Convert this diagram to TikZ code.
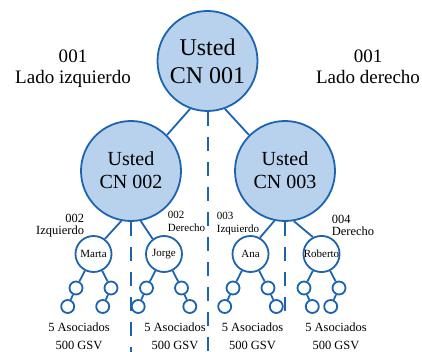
\documentclass[tikz,border=0pt]{standalone}
\usepackage{fontspec}
\setmainfont{Liberation Serif}
\usetikzlibrary{calc}
\definecolor{cnblue}{HTML}{1C64B0}
\definecolor{cnfill}{HTML}{B8D1EC}
\begin{document}
\begin{tikzpicture}[
    x=1pt, y=-1pt,
    line width=1.8pt,
    big/.style   ={circle, draw=cnblue, fill=cnfill, minimum size=100pt, inner sep=0pt, align=center},
    member/.style={circle, draw=cnblue, fill=white, minimum size=36pt, inner sep=0pt, font=\fontsize{11}{13}\selectfont},
    leaf/.style  ={circle, draw=cnblue, fill=white, minimum size=13pt, inner sep=0pt},
    link/.style={draw=cnblue},
    divider/.style={draw=cnblue, line width=2pt, dash pattern=on 14pt off 11pt},
    side/.style ={align=center, inner sep=0pt, font=\fontsize{19}{21}\selectfont},
    tag/.style  ={inner sep=0pt, font=\fontsize{12.5}{12}\selectfont},
    subtag/.style={inner sep=0pt, font=\fontsize{11}{13}\selectfont},
    tally/.style={anchor=north, align=center, inner sep=0pt, font=\fontsize{12.5}{18}\selectfont},
]
\useasboundingbox (0,0) rectangle (422,352);

%==================== CENTRAL NODES ====================

\node[big, font=\fontsize{24}{28}\selectfont] (top) at (207.5,61) {Usted\\CN 001};
\node[big, font=\fontsize{20}{22.5}\selectfont, text depth=2pt] (cn2) at (131,171) {Usted\\CN 002};
\node[big, font=\fontsize{20}{22.5}\selectfont, text depth=2pt] (cn3) at (285,171) {Usted\\CN 003};

\node[side] (left)  at (73,68.5) {001\\Lado izquierdo};
\node[side] (right) at (368,67)  {001\\Lado derecho};

%==================== MEMBERS ====================

\node[member] (marta)   at (93.5,254) {Marta};
\node[member] (jorge)   at (164,254)  {Jorge};
\node[member] (ana)     at (250.5,254){Ana};
\node[member] (roberto) at (321.5,254){Roberto};

\node[tag, anchor=north east, align=right]   (marta-tag)   at (85,213)    {002\\Izquierdo};
\node[subtag, anchor=north west, align=left] (jorge-tag)   at (167,210.5) {002\\Derecho};
\node[subtag, anchor=north west, align=left] (ana-tag)     at (216,211.5) {003\\Izquierdo};
\node[tag, anchor=north west, align=left]    (roberto-tag) at (331,214)   {004\\Derecho};

% leaves under every member
\foreach \who/\da/\db in {marta/-1/-1, jorge/-1/1, ana/-1/1, roberto/1/-1} {
  \node[leaf] (\who-a) at ($(\who)+(-17.5,34)$) {};
  \node[leaf] (\who-b) at ($(\who)+(17.5,34)$) {};
  \node[leaf] (\who-c) at ($(\who-a)+(\da*8.3,18.5)$) {};
  \node[leaf] (\who-d) at ($(\who-b)+(\db*8.3,18.5)$) {};
  \draw[link] (\who) -- (\who-a);
  \draw[link] (\who) -- (\who-b);
  \draw[link] (\who-a) -- (\who-c);
  \draw[link] (\who-b) -- (\who-d);
}

\node[tally] (marta-sum)   at (79,321.5)    {5 Asociados\\500 GSV};
\node[tally] (jorge-sum)   at (175,321.5)   {5 Asociados\\500 GSV};
\node[tally] (ana-sum)     at (252.5,321.5) {5 Asociados\\500 GSV};
\node[tally] (roberto-sum) at (336,321.5)   {5 Asociados\\500 GSV};

%==================== CONNECTORS ====================

\draw[link] (top.250) -- (cn2.45);
\draw[link] (top.290) -- (cn3.135);
\draw[link] (cn2.259) -- (marta.53);
\draw[link] (cn2.281) -- (jorge.127);
\draw[link] (cn3.258) -- (ana.60);
\draw[link] (cn3.280) -- (roberto.117);

% dividing lines
\coordinate (floor) at (0,352);
\coordinate (stop)  at (0,318);
\draw[divider] (top.south) -- (top.south |- floor);
\draw[divider] (cn2.south) -- (cn2.south |- floor);
\draw[divider] (cn3.south) -- (cn3.south |- stop);

\end{tikzpicture}
\end{document}
